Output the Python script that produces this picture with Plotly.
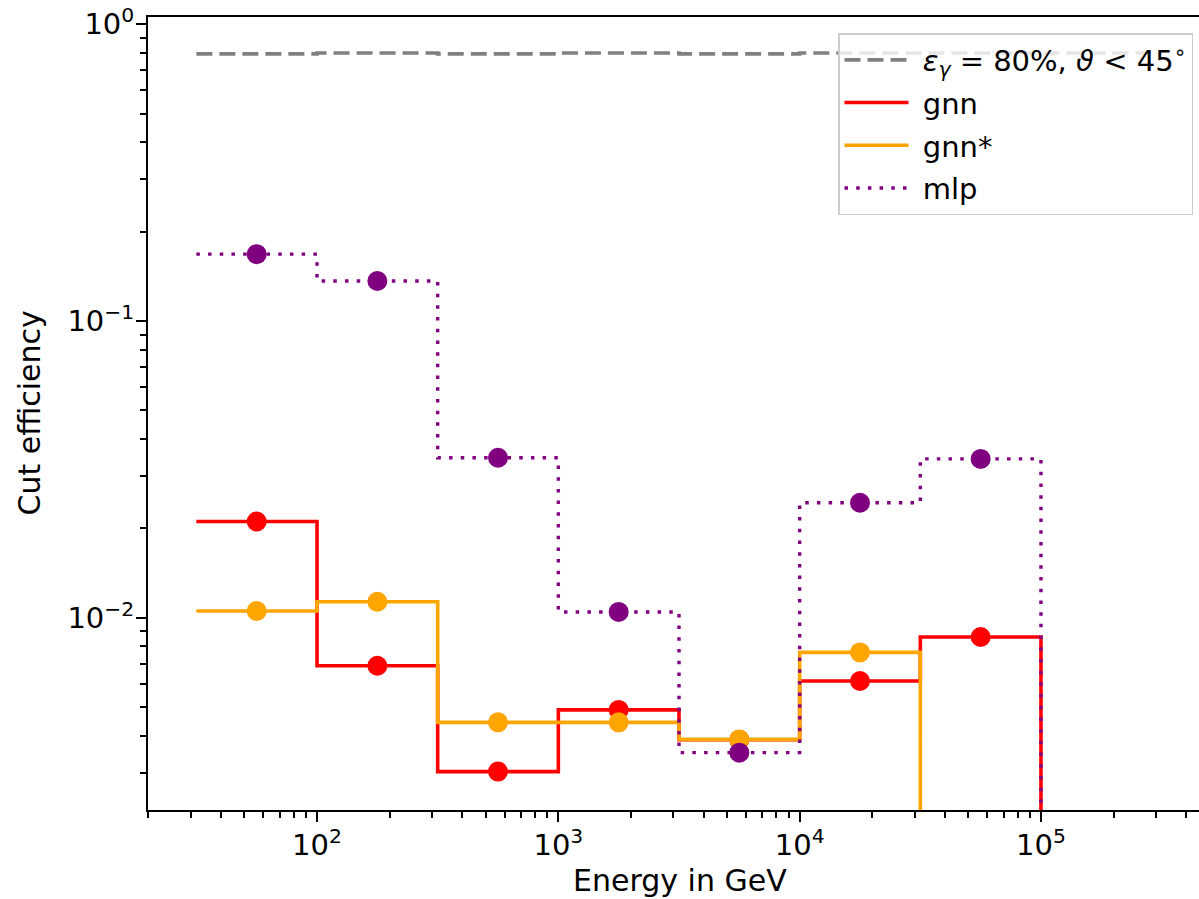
import numpy as np
import plotly.graph_objects as go

# ---- data ----
bin_edges_log10 = [1.5, 2.0, 2.5, 3.0, 3.5, 4.0, 4.5, 5.0]          # energy bin edges, log10(GeV)
ref_edges_log10 = [1.5, 2.0, 2.5, 3.0, 3.5, 4.0, 4.5, 5.0, 5.5]     # reference line bin edges
ref_eff = [0.795, 0.80, 0.795, 0.80, 0.795, 0.80, 0.80, 0.80]       # eps_gamma = 80 % line
gnn = [0.0211, 0.00689, 0.00303, 0.00489, 0.00388, 0.00612, 0.00861]
gnn_star = [0.01054, 0.01132, 0.00444, 0.00444, 0.00389, 0.00764, 0.0]
mlp = [0.168, 0.1364, 0.0346, 0.01046, 0.00351, 0.0244, 0.0343]
x_tick_exponents = [2, 3, 4, 5]
y_tick_exponents = [-2, -1, 0]

FONT = "DejaVu Sans"
TICK_FS = 29
TITLE_FS = 30
LEG_FS = 29
LOG_FLOOR = 1e-6  # stands in for 0 on the log axis (drawn below the visible range)
NB = "\u00a0"

edges = 10.0 ** np.array(bin_edges_log10)
centers = np.sqrt(edges[:-1] * edges[1:])
ref_edges = 10.0 ** np.array(ref_edges_log10)


def step_y(vals):
    y = list(vals) + [0.0]
    return [v if v > 0 else LOG_FLOOR for v in y]


def pow_label(e):
    s = str(e).replace("-", "\u2212")
    return f"10<sup>{s}</sup>"


fig = go.Figure()

fig.add_trace(go.Scatter(
    x=ref_edges, y=list(ref_eff) + [ref_eff[-1]], mode="lines", line_shape="hv",
    line=dict(color="#808080", width=3.6, dash="16px,7px"),
    name=NB + "<i>ε</i><sub><i>γ</i></sub> = 80%, <i>ϑ</i> &lt; 45<sup>∘</sup>",
    legendgroup="ref",
))

series = [
    ("gnn", gnn, "#ff0000", "solid"),
    ("gnn*", gnn_star, "#ffa500", "solid"),
    ("mlp", mlp, "#800080", "3.5px,8.2px"),
]
for name, vals, color, dash in series:
    fig.add_trace(go.Scatter(
        x=edges, y=step_y(vals), mode="lines", line_shape="hv",
        line=dict(color=color, width=3.6 if dash == "solid" else 3.4, dash=dash),
        name=NB + name, legendgroup=name,
    ))
    mx = [c for c, v in zip(centers, vals) if v > 0]
    my = [v for v in vals if v > 0]
    fig.add_trace(go.Scatter(
        x=mx, y=my, mode="markers", showlegend=False, legendgroup=name,
        marker=dict(color=color, size=20, line=dict(width=0)),
    ))

W, H = 1199, 899
L, R, T, B = 148, 0, 17, 89

axis_common = dict(
    type="log", showgrid=False, zeroline=False, automargin=False,
    showline=True, linewidth=2, linecolor="black",
    ticks="outside", ticklen=10, tickwidth=2, tickcolor="black",
    tickfont=dict(family=FONT, size=TICK_FS, color="black"),
    minor=dict(ticks="outside", ticklen=6, tickwidth=1.5, tickcolor="black",
               dtick="D1", showgrid=False),
)

fig.update_layout(
    width=W, height=H,
    margin=dict(l=L, r=R, t=T, b=B, pad=0),
    paper_bgcolor="white", plot_bgcolor="white",
    font=dict(family=FONT, size=TICK_FS, color="black"),
    xaxis=dict(axis_common, range=[1.2996, 5.6548], mirror=True,
               ticklabelstandoff=-2,
               tickvals=[10.0 ** e for e in x_tick_exponents],
               ticktext=[pow_label(e) for e in x_tick_exponents]),
    yaxis=dict(axis_common, range=[-2.648, 0.0246], mirror=False,
               ticklabelstandoff=-4,
               tickvals=[10.0 ** e for e in y_tick_exponents],
               ticktext=[pow_label(e) for e in y_tick_exponents]),
    legend=dict(
        x=(1193 - L) / (W - L - R), xanchor="right",
        y=1 - (33 - T) / (H - T - B), yanchor="top",
        bgcolor="rgba(255,255,255,0.8)", bordercolor="#cccccc", borderwidth=1.5,
        font=dict(family=FONT, size=LEG_FS, color="black"),
        itemwidth=64, tracegroupgap=2, traceorder="grouped",
    ),
    showlegend=True,
    annotations=[
        dict(text="Energy in GeV", xref="paper", yref="paper",
             x=(680 - L) / (W - L - R), y=0, xanchor="center", yanchor="top",
             yshift=-51, showarrow=False,
             font=dict(family=FONT, size=TITLE_FS, color="black")),
        dict(text="Cut efficiency", xref="paper", yref="paper",
             x=(29 - L) / (W - L - R), y=0.5,
             xanchor="center", yanchor="middle", textangle=-90, showarrow=False,
             font=dict(family=FONT, size=TITLE_FS, color="black")),
    ],
)

fig.write_html(
    "out.html",
    config={"displayModeBar": False},
    post_script="document.body.style.margin='0px';document.body.style.overflow='hidden';",
)
